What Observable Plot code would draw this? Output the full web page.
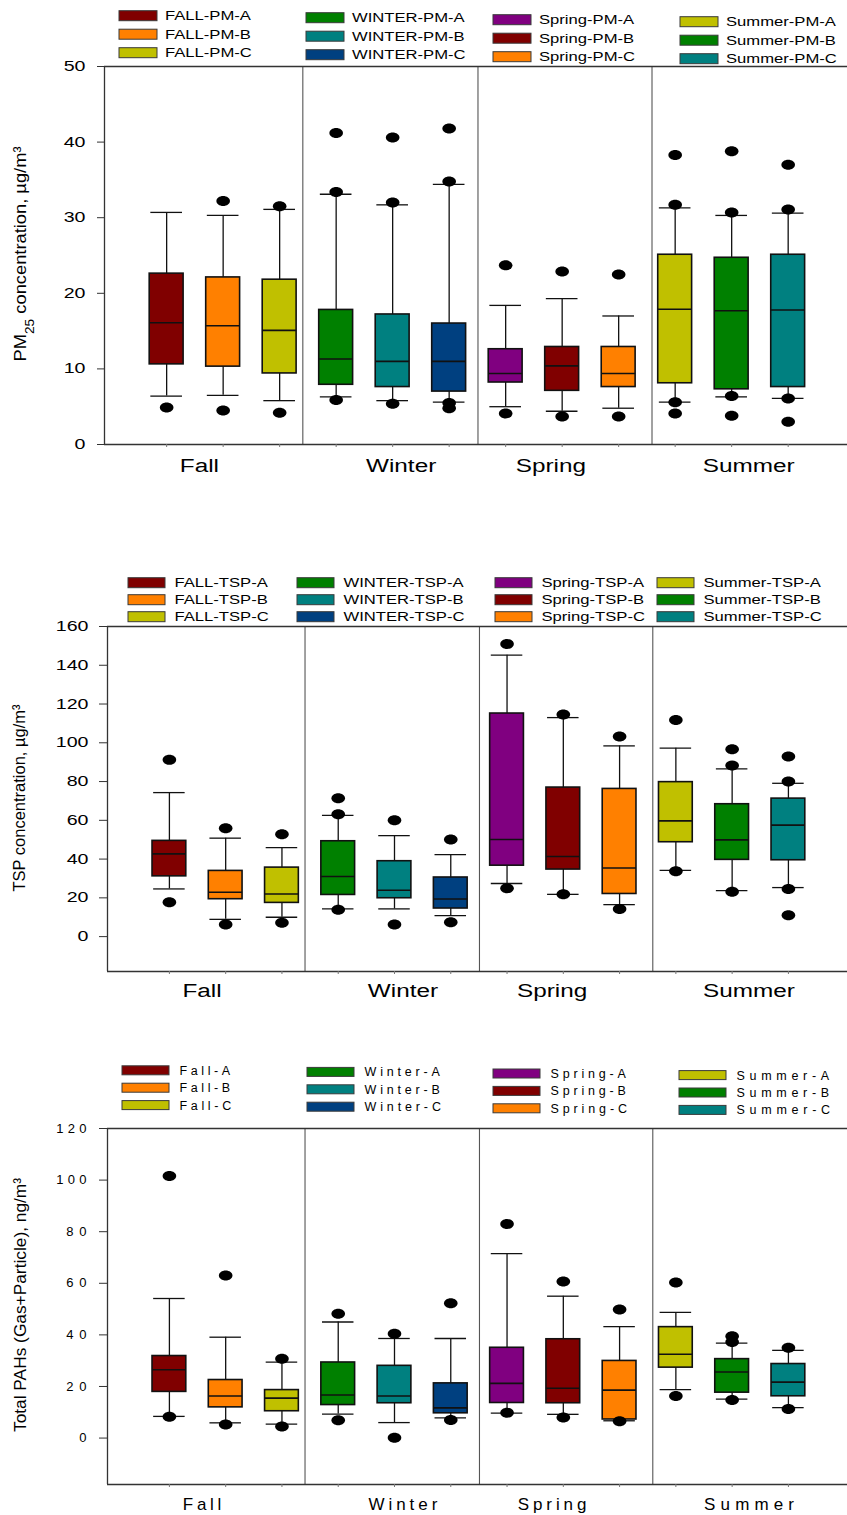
<!DOCTYPE html>
<html><head><meta charset="utf-8">
<script src="https://cdn.jsdelivr.net/npm/d3@7"></script>
<script src="https://cdn.jsdelivr.net/npm/@observablehq/plot@0.6"></script>
<style>
body{margin:0;background:#fff;}
#root{position:relative;width:847px;height:1515px;overflow:hidden;font-family:"Liberation Sans",Arial,sans-serif;}
#root svg{position:absolute;left:0;}
</style></head><body><div id="root"></div>
<script>
// ---------- shared categories ----------
const seasons = ["Fall", "Winter", "Spring", "Summer"];
const seasonTickPos = [1.58, 5.15, 7.8, 11.3];
const dividerPos = [3.41, 6.51, 9.59];
const boxColors = ["#800000", "#FF8000", "#C0C000", "#008000", "#008080", "#004080",
                   "#800080", "#800000", "#FF8000", "#C0C000", "#008000", "#008080"];

// ---------- Panel 1: PM2.5 ----------
const pmLegend = ["FALL-PM-A", "FALL-PM-B", "FALL-PM-C", "WINTER-PM-A", "WINTER-PM-B", "WINTER-PM-C",
                  "Spring-PM-A", "Spring-PM-B", "Spring-PM-C", "Summer-PM-A", "Summer-PM-B", "Summer-PM-C"];
const pmLow  = [6.4, 6.5, 5.8, 6.3, 5.8, 5.6, 5.0, 4.4, 4.8, 5.6, 6.3, 6.1];
const pmQ1   = [10.6, 10.3, 9.4, 7.9, 7.6, 7.0, 8.2, 7.1, 7.6, 8.1, 7.3, 7.6];
const pmMed  = [16.1, 15.7, 15.1, 11.3, 11.0, 11.0, 9.4, 10.4, 9.4, 17.9, 17.7, 17.8];
const pmQ3   = [22.6, 22.1, 21.8, 17.8, 17.2, 16.0, 12.6, 12.9, 12.9, 25.1, 24.7, 25.1];
const pmHigh = [30.7, 30.3, 31.1, 33.1, 31.7, 34.4, 18.4, 19.3, 17.0, 31.3, 30.3, 30.6];
const pmOut  = [[4.9], [32.2, 4.5], [31.5, 4.2], [41.2, 33.4, 5.9], [40.6, 32.0, 5.4], [41.8, 34.8, 5.5, 4.8],
                [23.7, 4.1], [22.9, 3.7], [22.5, 3.7], [38.3, 31.7, 5.6, 4.1], [38.8, 30.7, 6.4, 3.8], [37.0, 31.1, 6.1, 3.0]];
const pmTicks = [0, 10, 20, 30, 40, 50];

// ---------- Panel 2: TSP ----------
const tspLegend = ["FALL-TSP-A", "FALL-TSP-B", "FALL-TSP-C", "WINTER-TSP-A", "WINTER-TSP-B", "WINTER-TSP-C",
                   "Spring-TSP-A", "Spring-TSP-B", "Spring-TSP-C", "Summer-TSP-A", "Summer-TSP-B", "Summer-TSP-C"];
const tspLow  = [24.6, 8.9, 10.0, 14.3, 14.3, 10.8, 27.4, 21.8, 16.5, 34.2, 23.7, 25.3];
const tspQ1   = [31.1, 19.3, 17.4, 21.5, 19.8, 14.5, 36.6, 34.6, 22.0, 48.7, 39.6, 39.4];
const tspMed  = [42.7, 22.9, 22.0, 31.0, 23.9, 19.4, 50.1, 41.3, 35.4, 59.7, 49.9, 57.5];
const tspQ3   = [49.4, 33.9, 35.6, 49.2, 38.9, 30.5, 115.1, 76.9, 76.2, 79.7, 68.3, 71.2];
const tspHigh = [74.3, 50.8, 45.9, 62.5, 52.1, 42.3, 145.2, 113.0, 98.4, 97.2, 86.5, 79.1];
const tspOut  = [[91.2, 17.7], [55.9, 6.2], [52.8, 7.2], [71.4, 63.1, 13.9], [60.0, 6.2], [50.1, 7.4],
                 [151.0, 24.9], [114.6, 21.8], [103.2, 14.3], [111.7, 33.7], [96.7, 88.3, 23.1], [92.9, 80.0, 24.6, 11.0]];
const tspTicks = [0, 20, 40, 60, 80, 100, 120, 140, 160];

// ---------- Panel 3: Total PAHs ----------
const pahLegend = ["Fall-A", "Fall-B", "Fall-C", "Winter-A", "Winter-B", "Winter-C",
                   "Spring-A", "Spring-B", "Spring-C", "Summer-A", "Summer-B", "Summer-C"];
const pahLow  = [8.4, 5.9, 5.4, 9.3, 6.0, 7.8, 9.7, 9.2, 6.7, 18.8, 15.1, 11.8];
const pahQ1   = [17.9, 11.9, 10.4, 12.8, 13.5, 9.6, 13.6, 13.5, 7.2, 27.3, 17.6, 16.2];
const pahMed  = [26.5, 16.3, 15.5, 16.7, 16.3, 11.7, 21.2, 19.3, 18.6, 32.5, 25.6, 21.7];
const pahQ3   = [31.8, 22.5, 18.6, 29.3, 28.0, 21.2, 35.0, 38.3, 29.9, 43.0, 30.6, 28.7];
const pahHigh = [54.1, 39.1, 29.4, 45.0, 38.6, 38.6, 71.5, 55.0, 43.2, 48.7, 36.8, 34.0];
const pahOut  = [[101.6, 8.3], [63.0, 5.3], [30.7, 4.5], [48.2, 6.9], [40.4, 0.1], [52.3, 7.0],
                 [83.0, 9.8], [60.7, 8.0], [49.8, 6.5], [60.3, 16.3], [39.5, 37.2, 14.8], [35.0, 11.3]];
const pahTicks = [0, 20, 40, 60, 80, 100, 120];

// ---------- drawing ----------
const FONT = '"Liberation Sans", Arial, sans-serif';
const ellipse = {
  draw(ctx) {
    const rx = 6.8, ry = 5, k = 0.5523;
    ctx.moveTo(rx, 0);
    ctx.bezierCurveTo(rx, ry * k, rx * k, ry, 0, ry);
    ctx.bezierCurveTo(-rx * k, ry, -rx, ry * k, -rx, 0);
    ctx.bezierCurveTo(-rx, -ry * k, -rx * k, -ry, 0, -ry);
    ctx.bezierCurveTo(rx * k, -ry, rx, -ry * k, rx, 0);
    ctx.closePath();
  }
};

function stretch(nodes, factor, adjust) {
  nodes.forEach(t => {
    const L = t.getComputedTextLength();
    if (L > 0) { t.setAttribute("textLength", L * factor); t.setAttribute("lengthAdjust", adjust); }
  });
}

const root = document.getElementById("root");

function makePanel(cfg) {
  const data = cfg.low.map((_, i) => ({
    pos: i + 1, low: cfg.low[i], q1: cfg.q1[i], med: cfg.med[i], q3: cfg.q3[i], high: cfg.high[i], color: boxColors[i]
  }));
  const outl = cfg.out.flatMap((arr, i) => arr.map(v => ({pos: i + 1, v})));
  const [y0, y1] = cfg.yDomain;
  const positions = data.map(d => d.pos);
  const hw = 0.3, cw = 0.28;
  const svg = Plot.plot({
    width: 847, height: cfg.height,
    marginTop: cfg.mt, marginBottom: cfg.height - cfg.frameBottom, marginLeft: cfg.ml, marginRight: 0,
    x: {domain: [-0.1, 13.05], axis: null},
    y: {domain: cfg.yDomain, axis: null},
    color: {type: "identity"},
    style: {background: "transparent", overflow: "visible", fontFamily: FONT, color: "#000"},
    marks: [
      Plot.ruleX(dividerPos, {stroke: "#555", strokeWidth: 1.1}),
      Plot.ruleY([y1], {stroke: "#333", strokeWidth: 1.3}),
      Plot.ruleY([y0], {stroke: "#333", strokeWidth: 1.3}),
      Plot.ruleX([-0.1], {stroke: "#333", strokeWidth: 1.3}),
      Plot.axisY({ticks: cfg.ticks, tickSize: cfg.tickSize, tickPadding: cfg.tickPadding, fontSize: cfg.tickFont,
                  label: null, tickFormat: d => String(d), stroke: "#333"}),
      Plot.axisX({ticks: positions, tickSize: 3, tickFormat: () => "", label: null, stroke: "#777"}),
      Plot.text(seasons, {x: (d, i) => seasonTickPos[i], frameAnchor: "bottom", lineAnchor: "top",
                          dy: cfg.seasonDy, fontSize: cfg.seasonFont, text: d => d, fill: "#000"}),
      Plot.ruleX(data, {x: "pos", y1: "low", y2: "high", stroke: "#111", strokeWidth: 1.3}),
      Plot.ruleY(data, {y: "low", x1: d => d.pos - cw, x2: d => d.pos + cw, stroke: "#111", strokeWidth: 1.3}),
      Plot.ruleY(data, {y: "high", x1: d => d.pos - cw, x2: d => d.pos + cw, stroke: "#111", strokeWidth: 1.3}),
      Plot.rect(data, {x1: d => d.pos - hw, x2: d => d.pos + hw, y1: "q1", y2: "q3", fill: "color",
                       stroke: "#111", strokeWidth: 1.6}),
      Plot.ruleY(data, {y: "med", x1: d => d.pos - hw, x2: d => d.pos + hw, stroke: "#111", strokeWidth: 1.6}),
      Plot.dot(outl, {x: "pos", y: "v", symbol: ellipse, fill: "#000", stroke: "none"})
    ]
  });
  svg.style.top = cfg.top + "px";
  root.appendChild(svg);

  const s = d3.select(svg);
  stretch(svg.querySelectorAll('g[aria-label="y-axis tick label"] text'), cfg.tickStretch, cfg.tickAdjust);
  stretch(svg.querySelectorAll('g[aria-label="text"] text'), cfg.seasonStretch, cfg.seasonAdjust);

  // y-axis title
  const t = s.append("text")
    .attr("transform", `translate(${cfg.titleX},${cfg.titleY}) rotate(-90)`)
    .attr("text-anchor", "middle")
    .attr("font-size", cfg.titleFont)
    .attr("font-family", FONT)
    .attr("fill", "#000");
  cfg.titleParts.forEach(p => {
    const ts = t.append("tspan").text(p.text);
    if (p.sub) ts.attr("baseline-shift", "sub").attr("font-size", cfg.titleFont * 0.75);
  });
  t.attr("textLength", cfg.titleLen).attr("lengthAdjust", "spacingAndGlyphs");

  // legend
  const L = cfg.legend;
  const g = s.append("g").attr("font-family", FONT).attr("font-size", L.font).attr("text-anchor", "start");
  cfg.labels.forEach((lab, i) => {
    const col = Math.floor(i / 3), row = i % 3;
    const x = L.colX[col];
    const y = L.y0 + col * L.colShift + row * L.rowStep;
    g.append("rect").attr("x", x).attr("y", y - L.swH / 2).attr("width", L.swW).attr("height", L.swH)
      .attr("fill", boxColors[i]).attr("stroke", "#3a3a3a").attr("stroke-width", 1);
    const tx = g.append("text").attr("x", x + L.textOff).attr("y", y).attr("dy", "0.36em")
      .attr("text-anchor", "start").attr("fill", "#000").text(lab);
    stretch([tx.node()], L.stretch, L.adjust);
  });
}

makePanel({
  top: 0, height: 484, mt: 66, frameBottom: 444, ml: 104, yDomain: [0, 50], ticks: pmTicks,
  low: pmLow, q1: pmQ1, med: pmMed, q3: pmQ3, high: pmHigh, out: pmOut, labels: pmLegend,
  tickSize: 7, tickPadding: 12, tickFont: 14, tickStretch: 1.4, tickAdjust: "spacingAndGlyphs",
  seasonDy: 15, seasonFont: 18, seasonStretch: 1.35, seasonAdjust: "spacingAndGlyphs",
  titleX: 26, titleY: 254, titleFont: 17, titleLen: 215,
  titleParts: [{text: "PM"}, {text: "25", sub: true}, {text: " concentration, µg/m³"}],
  legend: {colX: [119, 306, 493, 680], y0: 15.7, colShift: 2, rowStep: 18.5, swW: 38, swH: 10, textOff: 46,
           font: 12.5, stretch: 1.33, adjust: "spacingAndGlyphs"}
});

makePanel({
  top: 560, height: 446, mt: 66, frameBottom: 411, ml: 107, yDomain: [-18, 160], ticks: tspTicks,
  low: tspLow, q1: tspQ1, med: tspMed, q3: tspQ3, high: tspHigh, out: tspOut, labels: tspLegend,
  tickSize: 8, tickPadding: 11, tickFont: 14, tickStretch: 1.4, tickAdjust: "spacingAndGlyphs",
  seasonDy: 13, seasonFont: 18, seasonStretch: 1.35, seasonAdjust: "spacingAndGlyphs",
  titleX: 25, titleY: 238, titleFont: 17, titleLen: 187,
  titleParts: [{text: "TSP concentration, µg/m³"}],
  legend: {colX: [128, 297, 495, 657], y0: 22.7, colShift: 0, rowStep: 17, swW: 37, swH: 10, textOff: 46.5,
           font: 12.5, stretch: 1.33, adjust: "spacingAndGlyphs"}
});

makePanel({
  top: 1060, height: 455, mt: 68, frameBottom: 424, ml: 107, yDomain: [-18, 120], ticks: pahTicks,
  low: pahLow, q1: pahQ1, med: pahMed, q3: pahQ3, high: pahHigh, out: pahOut, labels: pahLegend,
  tickSize: 8, tickPadding: 13, tickFont: 13, tickStretch: 1.4, tickAdjust: "spacing",
  seasonDy: 13, seasonFont: 17, seasonStretch: 1.4, seasonAdjust: "spacing",
  titleX: 26, titleY: 245, titleFont: 17, titleLen: 254,
  titleParts: [{text: "Total PAHs (Gas+Particle), ng/m³"}],
  legend: {colX: [122, 307, 493, 679], y0: 10.3, colShift: 1.6, rowStep: 17.4, swW: 47, swH: 9, textOff: 57.5,
           font: 12.5, stretch: 1.55, adjust: "spacing"}
});
</script>
</body></html>
